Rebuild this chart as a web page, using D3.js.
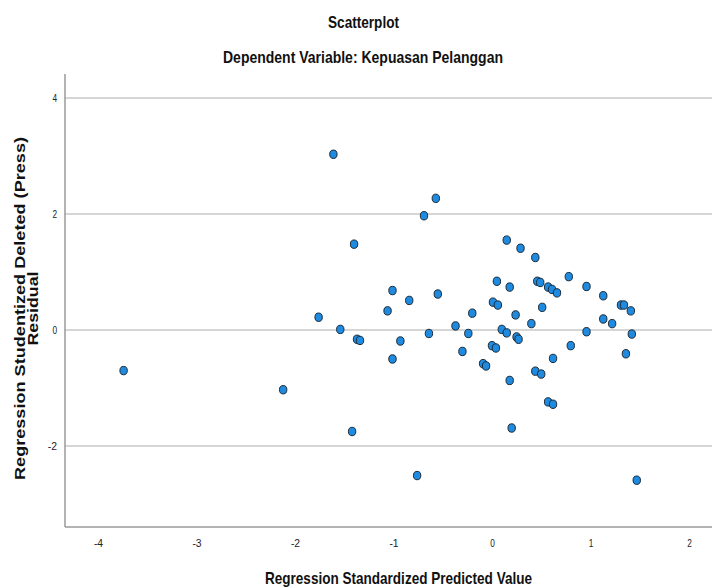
<!DOCTYPE html>
<html>
<head>
<meta charset="utf-8">
<script src="https://cdn.jsdelivr.net/npm/d3@7"></script>
<style>
  body { margin: 0; background: #fff; }
  svg text { font-family: "Liberation Sans", Arial, sans-serif; }
</style>
</head>
<body>
<script>
// predicted (x) and studentized deleted residual (y)
var predicted = [
  -1.61, -1.40, -0.57, -0.69, 0.15, 0.29, 0.44, 0.78, 0.46, 0.49,
  0.57, 0.61, 0.66, 0.96, 1.13, 1.31, 1.34, 1.41, 1.13, 1.22,
  1.42, 0.96, 0.80, -1.01, -0.84, -1.06, -0.55, 0.05, 0.18, 0.01,
  0.06, -0.20, 0.24, 0.51, 0.40, -0.37, 0.10, 0.15, -0.64, -0.24,
  -0.93, 0.25, 0.27, 0.00, 0.04, -0.30, 1.36, -1.01, -0.09, -0.06,
  0.62, 0.44, 0.50, 0.18, 0.57, 0.62, 0.20, -0.76, 1.47, -1.76,
  -1.54, -1.37, -1.34, -3.74, -2.12, -1.42
];
var residual = [
  3.03, 1.48, 2.27, 1.97, 1.55, 1.41, 1.25, 0.92, 0.84, 0.82,
  0.74, 0.70, 0.64, 0.75, 0.59, 0.43, 0.43, 0.33, 0.19, 0.11,
  -0.07, -0.03, -0.27, 0.68, 0.51, 0.33, 0.62, 0.84, 0.74, 0.48,
  0.43, 0.29, 0.26, 0.39, 0.11, 0.07, 0.01, -0.05, -0.06, -0.06,
  -0.19, -0.12, -0.16, -0.27, -0.31, -0.37, -0.41, -0.50, -0.58, -0.62,
  -0.49, -0.71, -0.76, -0.87, -1.24, -1.28, -1.69, -2.51, -2.59, 0.22,
  0.01, -0.16, -0.18, -0.70, -1.03, -1.75
];
var xTicks = [-4, -3, -2, -1, 0, 1, 2];
var yTicks = [-2, 0, 2, 4];

var width = 712, height = 588;
var plotLeft = 65, plotRight = 712, plotTop = 74, plotBottom = 527;

var svg = d3.select('body')
            .append('svg')
            .attr('width', width)
            .attr('height', height);

var x = d3.scaleLinear().domain([-4.335, 2.234]).range([plotLeft, plotRight]);
var y = d3.scaleLinear().domain([-3.397, 4.414]).range([plotBottom, plotTop]);

// gridlines
svg.selectAll('line.grid')
   .data(yTicks)
   .enter()
   .append('line')
   .attr('class', 'grid')
   .attr('x1', plotLeft)
   .attr('x2', plotRight)
   .attr('y1', function(d){ return y(d) })
   .attr('y2', function(d){ return y(d) })
   .attr('stroke', '#c8c8c8')
   .attr('stroke-width', 1.5);

// axes
var fmt = function(d){ return String(d) };
var xAxis = svg.append('g')
               .attr('transform', 'translate(0,' + plotBottom + ')')
               .call(d3.axisBottom(x).tickValues(xTicks).tickSize(0).tickPadding(13).tickFormat(fmt));
var yAxis = svg.append('g')
               .attr('transform', 'translate(' + plotLeft + ',0)')
               .call(d3.axisLeft(y).tickValues(yTicks).tickSize(0).tickPadding(8).tickFormat(fmt));

[xAxis, yAxis].forEach(function(g){
  g.select('.domain').attr('stroke', '#9a9a9a').attr('stroke-width', 1.5);
  g.selectAll('.tick text')
   .attr('font-size', 10).attr('fill', '#222')
   .attr('font-family', '"Liberation Sans", Arial, sans-serif')
   .attr('textLength', function(d){ return String(d).length * 4.6 })
   .attr('lengthAdjust', 'spacingAndGlyphs');
});
xAxis.select('.domain').attr('d', 'M' + plotLeft + ',0H' + plotRight);
yAxis.select('.domain').attr('d', 'M0,' + plotTop + 'V' + plotBottom);

// points (slightly taller than wide, as in the picture)
svg.selectAll('ellipse')
   .data(predicted)
   .enter()
   .append('ellipse')
   .attr('cx', function(d, i){ return x(d) })
   .attr('cy', function(d, i){ return y(residual[i]) })
   .attr('rx', 3.7)
   .attr('ry', 4.2)
   .attr('fill', '#1f8be0')
   .attr('stroke', '#1c2a36')
   .attr('stroke-width', 1);

// titles
function title(txt, cx, cy, len){
  return svg.append('text')
            .text(txt)
            .attr('x', cx).attr('y', cy)
            .attr('text-anchor', 'middle')
            .attr('font-size', 17).attr('font-weight', 'bold')
            .attr('textLength', len)
            .attr('lengthAdjust', 'spacingAndGlyphs')
            .attr('fill', '#111');
}
title('Scatterplot', 363.5, 28, 71);
title('Dependent Variable: Kepuasan Pelanggan', 363, 63, 280);
title('Regression Standardized Predicted Value', 398.5, 584, 267);

var yTitle = svg.append('text')
   .attr('transform', 'translate(0,308.5) rotate(-90)')
   .attr('text-anchor', 'middle')
   .attr('font-size', 15).attr('font-weight', 'bold')
   .attr('fill', '#111');
yTitle.append('tspan').attr('x', 0).attr('y', 25)
      .attr('textLength', 343).attr('lengthAdjust', 'spacingAndGlyphs')
      .text('Regression Studentized Deleted (Press)');
yTitle.append('tspan').attr('x', 0).attr('y', 38)
      .attr('textLength', 74).attr('lengthAdjust', 'spacingAndGlyphs')
      .text('Residual');
</script>
</body>
</html>
